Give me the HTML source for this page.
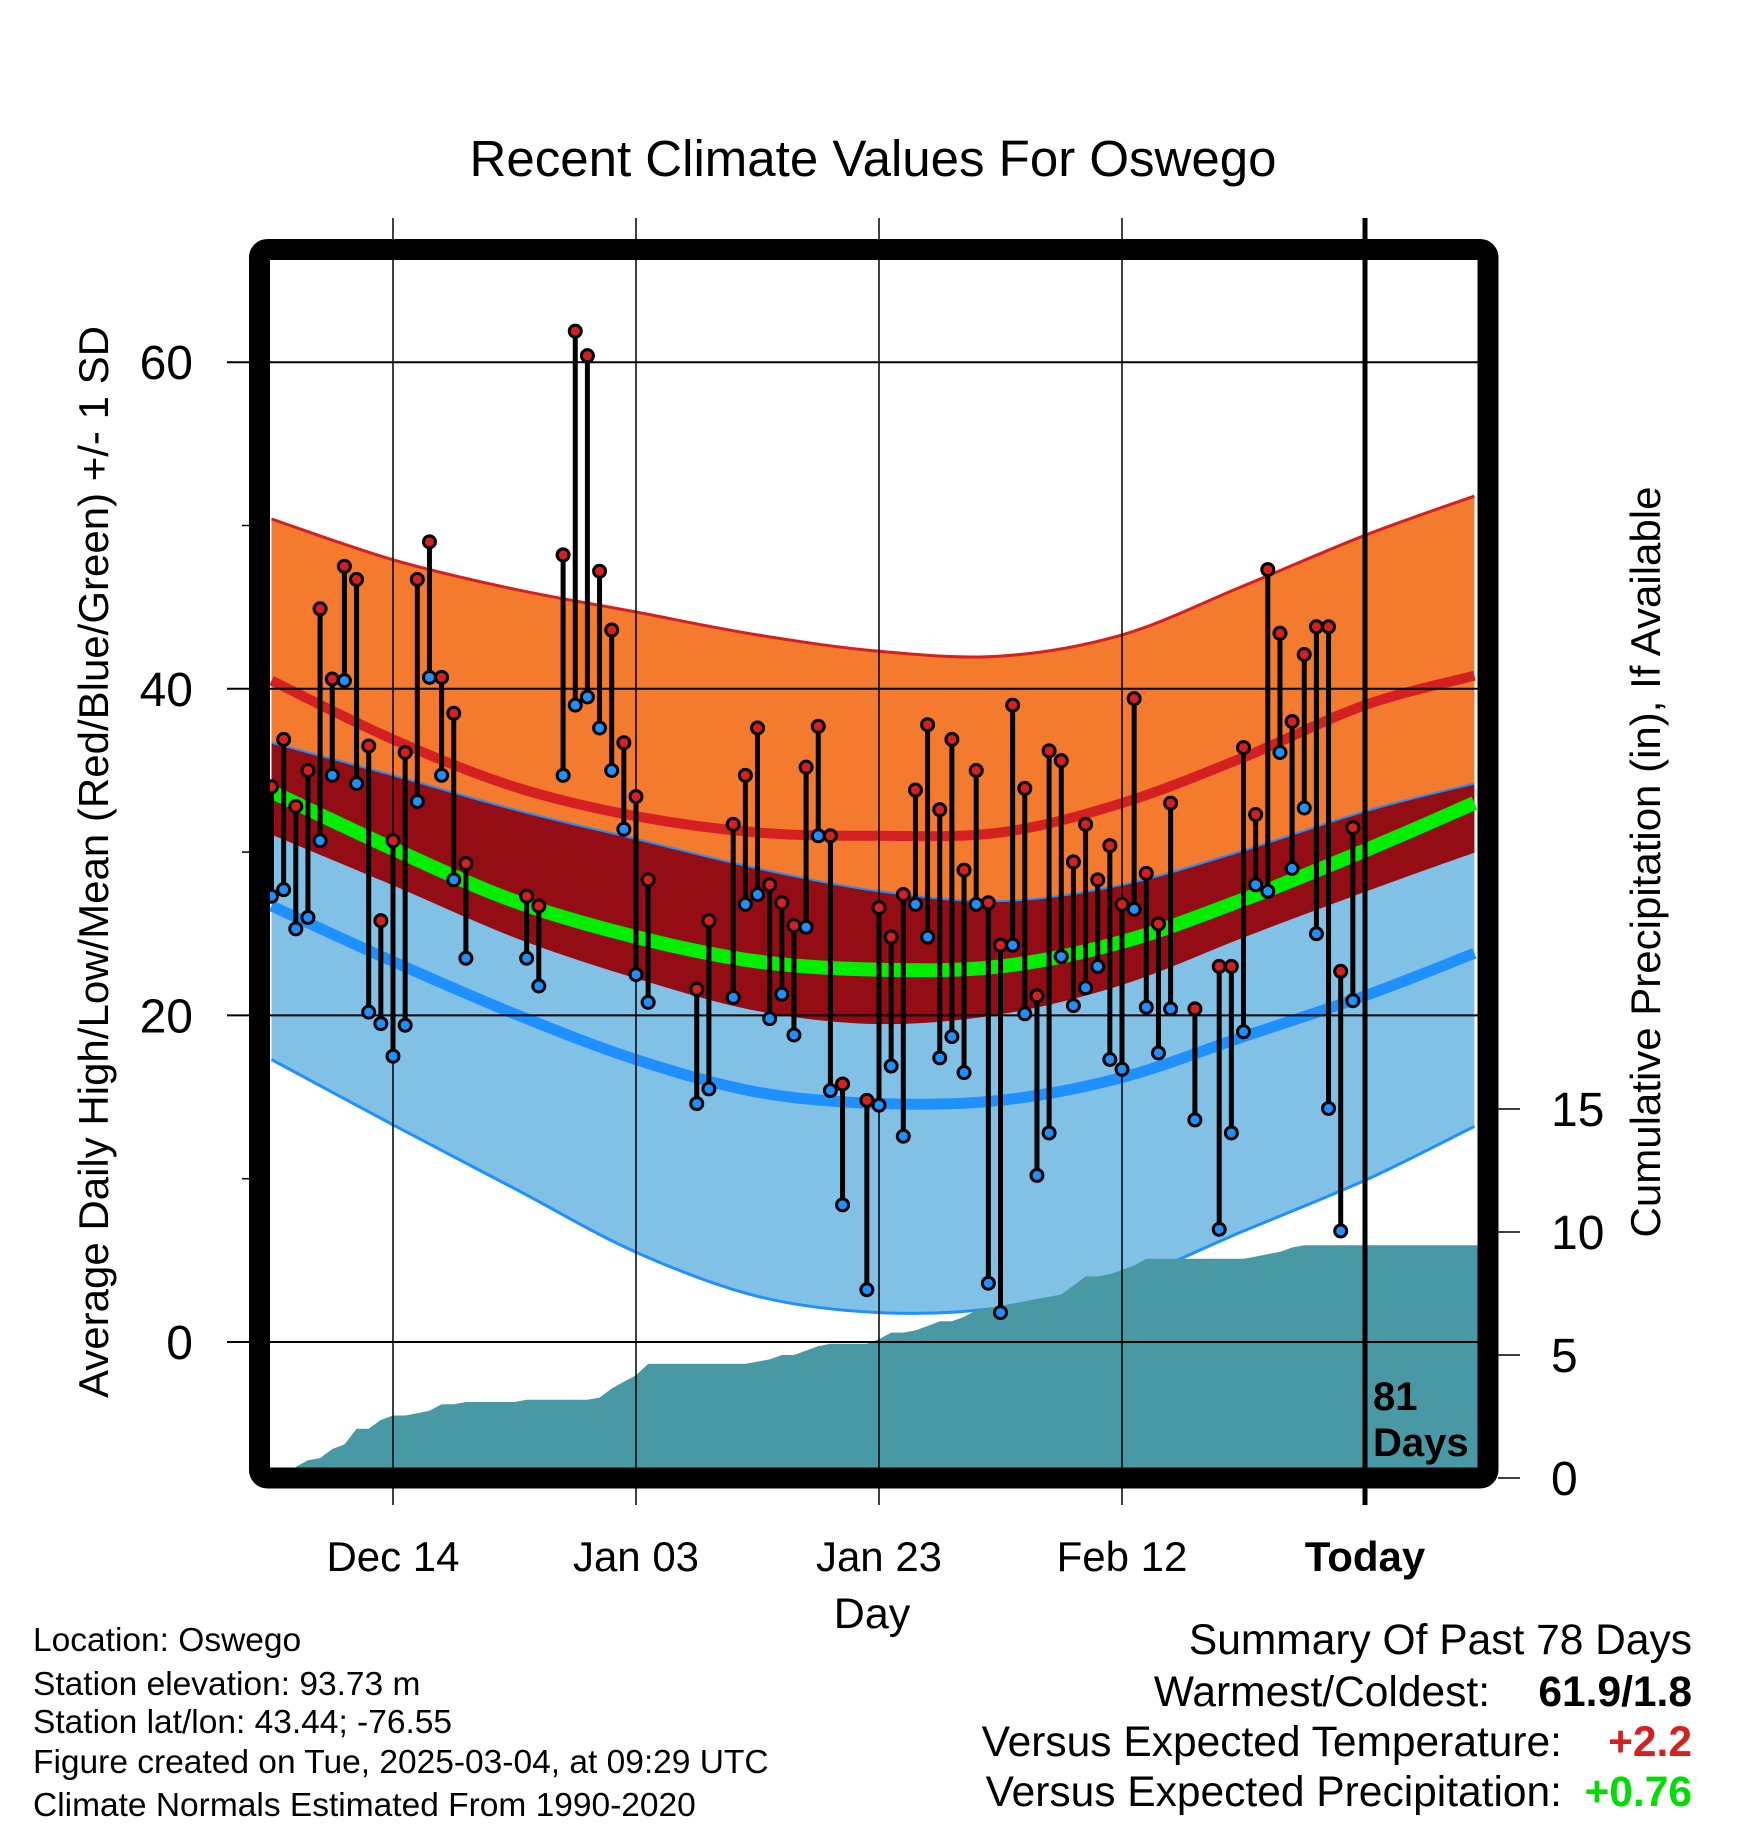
<!DOCTYPE html>
<html><head><meta charset="utf-8"><style>
html,body{margin:0;padding:0;background:#fff;}
svg{display:block;font-family:"Liberation Sans",sans-serif;}
</style></head><body>
<svg id="chart" width="1748" height="1828" viewBox="0 0 1748 1828" xmlns="http://www.w3.org/2000/svg">
<defs><clipPath id="plotClip"><rect x="270" y="260" width="1208" height="1208"/></clipPath></defs>
<g id="bands" clip-path="url(#plotClip)"></g>
<g id="precip" clip-path="url(#plotClip)"></g>
<g id="grid"></g>
<g id="obs"></g>
<g id="axes"></g>
<text x="873" y="176" font-size="51" text-anchor="middle">Recent Climate Values For Oswego</text>
<text transform="translate(108,862) rotate(-90)" font-size="42" text-anchor="middle">Average Daily High/Low/Mean (Red/Blue/Green) +/- 1 SD</text>
<text transform="translate(1660,862) rotate(-90)" font-size="42" text-anchor="middle">Cumulative Precipitation (in), If Available</text>
<text x="872" y="1628" font-size="43" text-anchor="middle">Day</text>
<text x="1373" y="1410" font-size="40" font-weight="bold">81</text>
<text x="1373" y="1456" font-size="40" font-weight="bold">Days</text>
<g font-size="33.5">
<text x="33" y="1651">Location: Oswego</text>
<text x="33" y="1695">Station elevation: 93.73 m</text>
<text x="33" y="1733">Station lat/lon: 43.44; -76.55</text>
<text x="33" y="1773">Figure created on Tue, 2025-03-04, at 09:29 UTC</text>
<text x="33" y="1816">Climate Normals Estimated From 1990-2020</text>
</g>
<g font-size="42.5">
<text x="1692" y="1654" text-anchor="end">Summary Of Past 78 Days</text>
<text x="1490" y="1706" text-anchor="end">Warmest/Coldest:</text>
<text x="1692" y="1706" text-anchor="end" font-weight="bold">61.9/1.8</text>
<text x="1562" y="1756" text-anchor="end">Versus Expected Temperature:</text>
<text x="1692" y="1756" text-anchor="end" font-weight="bold" fill="#d42020">+2.2</text>
<text x="1562" y="1806" text-anchor="end">Versus Expected Precipitation:</text>
<text x="1692" y="1806" text-anchor="end" font-weight="bold" fill="#00dd00">+0.76</text>
</g>
<rect x="259.5" y="249.5" width="1228.5" height="1228.5" rx="8" fill="none" stroke="#000" stroke-width="21"/>
</svg>
<script>
// ---- data ----
const normDays = [-10,0,10,20,30,40,50,60,70,80,89];
const highPlusSD = [50.4,47.9,46.1,44.7,43.3,42.3,42.0,43.3,46.3,49.4,51.8];
const meanHigh = [40.5,36.9,34.0,32.2,31.2,31.0,31.2,33.0,35.8,39.0,40.8];
const lowPlusSD = [36.7,34.7,32.6,30.8,29.0,27.6,27.0,28.0,30.1,32.5,34.2];
const meanTemp = [33.7,30.2,27.0,24.8,23.3,22.8,23.0,24.5,27.1,30.1,33.0];
const highMinusSD = [31.1,28.0,24.8,22.3,20.3,19.5,20.1,21.9,24.8,27.6,30.0];
const meanLow = [26.7,23.3,20.1,17.3,15.3,14.6,14.8,16.2,18.7,21.2,23.8];
const lowMinusSD = [17.3,13.3,9.4,5.5,2.8,1.8,2.1,3.7,6.8,9.9,13.2];

const obsDays = [-10,-9,-8,-7,-6,-5,-4,-3,-2,-1,0,1,2,3,4,5,6,11,12,14,15,16,17,18,19,20,21,25,26,28,29,30,31,32,33,34,35,36,37,39,40,41,42,43,44,45,46,47,48,49,50,51,52,53,54,55,56,57,58,59,60,61,62,63,64,66,68,69,70,71,72,73,74,75,76,77,78,79];
const obsHigh = [34.0,36.9,32.8,35.0,44.9,40.6,47.5,46.7,36.5,25.8,30.7,36.1,46.7,49.0,40.7,38.5,29.3,27.3,26.7,48.2,61.9,60.4,47.2,43.6,36.7,33.4,28.3,21.6,25.8,31.7,34.7,37.6,28.0,26.9,25.5,35.2,37.7,31.0,15.8,14.8,26.6,24.8,27.4,33.8,37.8,32.6,36.9,28.9,35.0,26.9,24.3,39.0,33.9,21.2,36.2,35.6,29.4,31.7,28.3,30.4,26.8,39.4,28.7,25.6,33.0,20.4,23.0,23.0,36.4,32.3,47.3,43.4,38.0,42.1,43.8,43.8,22.7,31.5];
const obsLow = [27.3,27.7,25.3,26.0,30.7,34.7,40.5,34.2,20.2,19.5,17.5,19.4,33.1,40.7,34.7,28.3,23.5,23.5,21.8,34.7,39.0,39.5,37.6,35.0,31.4,22.5,20.8,14.6,15.5,21.1,26.8,27.4,19.8,21.3,18.8,25.4,31.0,15.4,8.4,3.2,14.5,16.9,12.6,26.8,24.8,17.4,18.7,16.5,26.8,3.6,1.8,24.3,20.1,10.2,12.8,23.6,20.6,21.7,23.0,17.3,16.7,26.5,20.5,17.7,20.4,13.6,6.9,12.8,19.0,28.0,27.6,36.1,29.0,32.7,25.0,14.3,6.8,20.9];

const precipDays = [-8,-7,-6,-5,-4,-3,-2,-1,0,1,2,3,4,5,6,7,8,9,10,11,12,13,14,15,16,17,18,19,20,21,22,23,24,25,26,27,28,29,30,31,32,33,34,35,36,37,38,39,40,41,42,43,44,45,46,47,48,49,50,51,52,53,54,55,56,57,58,59,60,61,62,63,64,65,66,67,68,69,70,71,72,73,74,75,76,77,78,79,80,81,82,83,84,85,86,87,88,89];
const precipCum = [0.45,0.72,0.81,1.18,1.36,2.0,2.0,2.36,2.54,2.54,2.63,2.73,3.0,3.0,3.09,3.09,3.09,3.09,3.09,3.18,3.18,3.18,3.18,3.18,3.18,3.27,3.64,3.91,4.18,4.64,4.64,4.64,4.64,4.64,4.64,4.64,4.64,4.64,4.73,4.82,5.0,5.0,5.18,5.36,5.46,5.46,5.46,5.46,5.64,5.91,5.91,6.0,6.18,6.37,6.37,6.55,6.82,6.91,7.0,7.09,7.18,7.28,7.37,7.46,7.82,8.19,8.19,8.28,8.46,8.64,8.91,8.91,8.91,8.91,8.91,8.91,8.91,8.91,8.91,9.0,9.1,9.19,9.37,9.46,9.46,9.46,9.46,9.46,9.46,9.46,9.46,9.46,9.46,9.46,9.46,9.46,9.46,9.46];

const tempTicks = [0,20,40,60];
const tempMinor = [10,30,50];
const precipTicks = [0,5,10,15];
const dateTickDays = [0,20,40,60,80];
const dateTickLabels = ["Dec 14","Jan 03","Jan 23","Feb 12","Today"];

// ---- scales ----
const NS = "http://www.w3.org/2000/svg";
function xOf(d){ return 393 + d*12.15; }
function yT(v){ return 1342 - v*16.33; }
function yP(p){ return 1478 - p*24.6; }
function mk(tag, attrs, parent){ const e=document.createElementNS(NS,tag); for(const k in attrs) e.setAttribute(k,attrs[k]); parent.appendChild(e); return e; }
function xy(days, vals){ return days.map((d,i)=>[xOf(d), yT(vals[i])]); }
// smooth path (Catmull-Rom -> Bezier) through points; continuing = no initial M
function smooth(p, cont){
  let s = (cont ? "L" : "M") + p[0][0].toFixed(1)+","+p[0][1].toFixed(1);
  for(let i=0;i<p.length-1;i++){
    const p0=p[Math.max(0,i-1)], p1=p[i], p2=p[i+1], p3=p[Math.min(p.length-1,i+2)];
    const c1=[p1[0]+(p2[0]-p0[0])/6, p1[1]+(p2[1]-p0[1])/6];
    const c2=[p2[0]-(p3[0]-p1[0])/6, p2[1]-(p3[1]-p1[1])/6];
    s += "C"+c1[0].toFixed(1)+","+c1[1].toFixed(1)+" "+c2[0].toFixed(1)+","+c2[1].toFixed(1)+" "+p2[0].toFixed(1)+","+p2[1].toFixed(1);
  }
  return s;
}

const bands = document.getElementById("bands");
function band(top, bot, fill, name){
  const d = smooth(xy(normDays, top)) + smooth(xy(normDays, bot).reverse(), true) + "Z";
  const el = mk("path",{d:d,fill:fill},bands);
  
  
}
band(highPlusSD, lowPlusSD, "#f47a2e", "high-sd-band");
band(lowPlusSD, highMinusSD, "#940c14", "overlap-band");
band(highMinusSD, lowMinusSD, "#82c1e6", "low-sd-band");
function line(vals, color, w, name){
  const el = mk("path",{d:smooth(xy(normDays, vals)),fill:"none",stroke:color,"stroke-width":w},bands);
  
  
}
line(highPlusSD, "#d42020", 3, "high-plus-sd-line");
line(meanHigh, "#d42020", 10, "mean-high-line");
line(lowPlusSD, "#1e90ff", 2, "low-plus-sd-line");
line(highMinusSD, "#940c14", 1, "high-minus-sd-line");
line(meanTemp, "#00ee00", 14, "mean-line");
line(meanLow, "#1e90ff", 11, "mean-low-line");
line(lowMinusSD, "#1e90ff", 3, "low-minus-sd-line");

// precipitation area
const pg = document.getElementById("precip");
let pp = [xOf(precipDays[0]).toFixed(1)+",1480"];
precipDays.forEach((d,i)=>{ pp.push(xOf(d).toFixed(1)+","+yP(precipCum[i]).toFixed(1)); });
pp.push((xOf(precipDays[precipDays.length-1])+12.15).toFixed(1)+","+yP(precipCum[precipCum.length-1]).toFixed(1));
pp.push((xOf(precipDays[precipDays.length-1])+12.15).toFixed(1)+",1480");
const parea = mk("polygon",{points:pp.join(" "),fill:"#4899a3"},pg);



// grid
const grid = document.getElementById("grid");
tempTicks.forEach(v=>{
  const g = mk("line",{x1:227,x2:1478,y1:yT(v),y2:yT(v),stroke:"#000","stroke-width":2},grid);
  
  
});
tempMinor.forEach(v=>{
  const g = mk("line",{x1:242,x2:254,y1:yT(v),y2:yT(v),stroke:"#000","stroke-width":1.5},grid);
  
  
});
dateTickDays.forEach((d,i)=>{
  const isToday = i===dateTickDays.length-1;
  const g = mk("line",{x1:xOf(d),x2:xOf(d),y1:218,y2:1505,stroke:"#000","stroke-width":isToday?5:1.5},grid);
  
  
});

// observations
const obs = document.getElementById("obs");
obsDays.forEach((d,i)=>{
  const x = xOf(d);
  const s = mk("line",{x1:x,x2:x,y1:yT(obsHigh[i]),y2:yT(obsLow[i]),stroke:"#000","stroke-width":5},obs);
  
  
});
obsDays.forEach((d,i)=>{
  const x = xOf(d);
  const lo = mk("circle",{cx:x,cy:yT(obsLow[i]),r:6,fill:"#1e90ff",stroke:"#000","stroke-width":3},obs);
  
  
  const hi = mk("circle",{cx:x,cy:yT(obsHigh[i]),r:6,fill:"#d42020",stroke:"#000","stroke-width":3},obs);
  
  
});

// axes labels
const axes = document.getElementById("axes");
tempTicks.forEach(v=>{
  const t = mk("text",{x:193,y:yT(v)+17,"font-size":48,"text-anchor":"end"},axes);
  t.textContent = v;
  
  
});
precipTicks.forEach(p=>{
  const tk = mk("line",{x1:1498,x2:1520,y1:yP(p),y2:yP(p),stroke:"#000","stroke-width":1.5},axes);
  
  
  const t = mk("text",{x:1551,y:yP(p)+17,"font-size":48},axes);
  t.textContent = p;
  
  
});
dateTickDays.forEach((d,i)=>{
  const t = mk("text",{x:xOf(d),y:1571,"font-size":42,"text-anchor":"middle"},axes);
  if(i===dateTickDays.length-1) t.setAttribute("font-weight","bold");
  t.textContent = dateTickLabels[i];
  
  
});
</script>
</body></html>
